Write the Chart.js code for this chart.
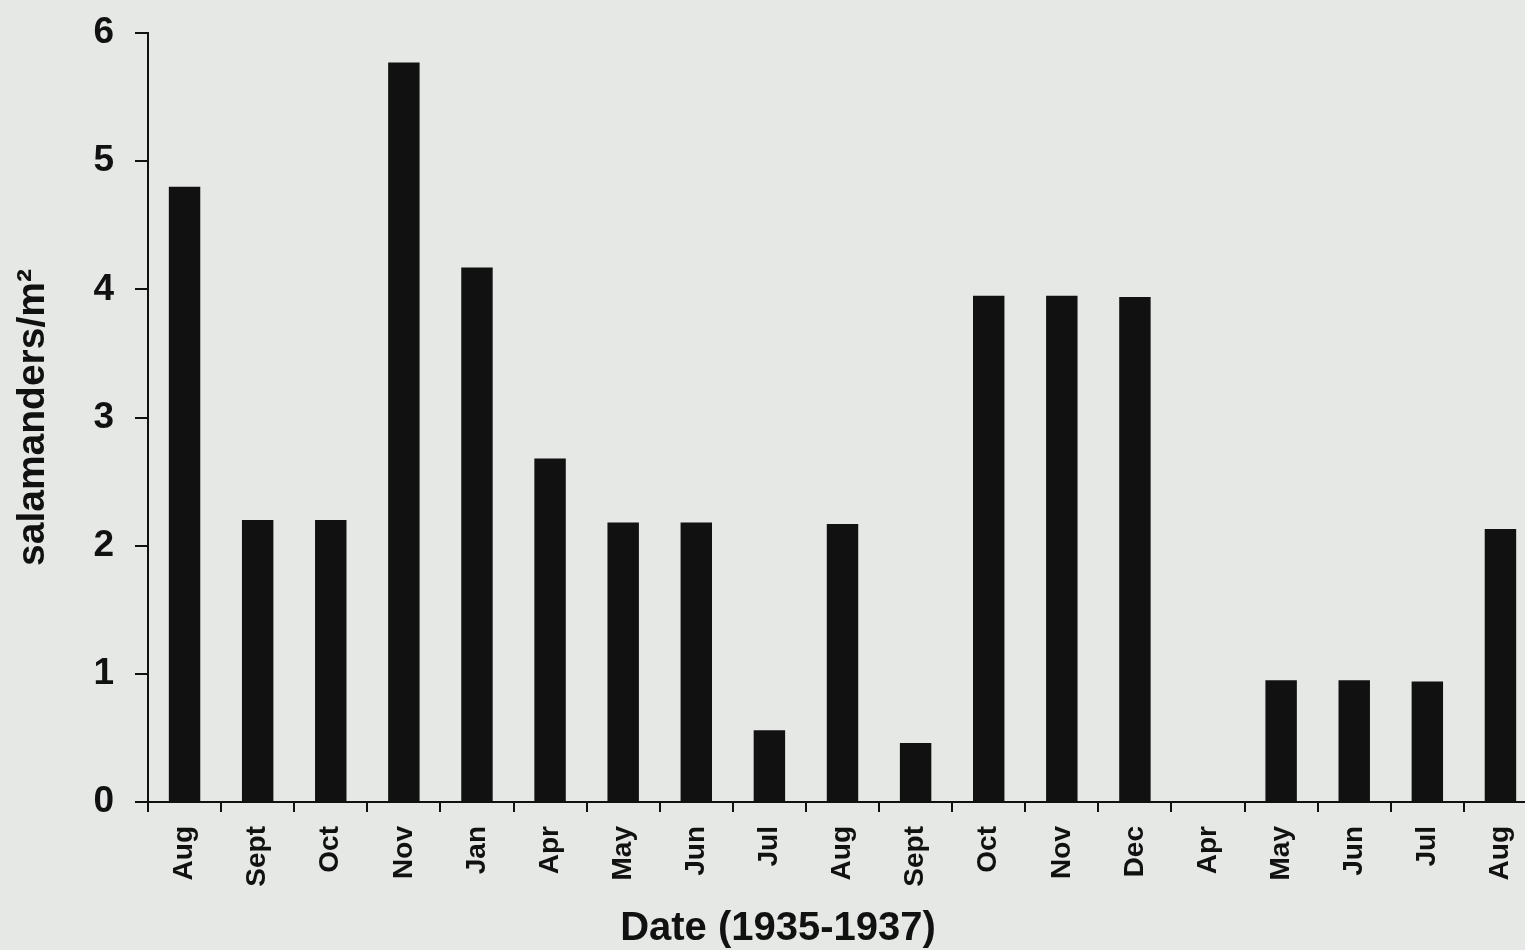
<!DOCTYPE html>
<html>
<head>
<meta charset="utf-8">
<script src="https://cdn.jsdelivr.net/npm/chart.js@4/dist/chart.umd.min.js"></script>
<style>
  html, body { margin: 0; padding: 0; background: #e5e8e5; overflow: hidden; }
  #wrap { width: 1556px; height: 950px; }
</style>
</head>
<body>
<div id="wrap"><canvas id="c" width="1556" height="950"></canvas></div>
<script>
const categories = ["Aug","Sept","Oct","Nov","Jan","Apr","May","Jun","Jul","Aug","Sept","Oct","Nov","Dec","Apr","May","Jun","Jul","Aug"];
const density = [4.80, 2.20, 2.20, 5.77, 4.17, 2.68, 2.18, 2.18, 0.56, 2.17, 0.46, 3.95, 3.95, 3.94, 0, 0.95, 0.95, 0.94, 2.13];
const yTicks = [0, 1, 2, 3, 4, 5, 6];
const xTitle = "Date (1935-1937)";
const yTitle = "salamanders/m\u00B2";

const ink = "#111111";
const fam = "'Liberation Sans', Arial, sans-serif";

new Chart(document.getElementById("c"), {
  type: "bar",
  data: {
    labels: categories,
    datasets: [{
      data: density,
      backgroundColor: ink,
      borderWidth: 0,
      barPercentage: 0.43,
      categoryPercentage: 1.0
    }]
  },
  options: {
    responsive: false,
    animation: false,
    layout: { padding: { top: 33, left: 0, right: 0, bottom: 0 } },
    plugins: {
      legend: { display: false },
      tooltip: { enabled: false },
      title: {
        display: true,
        text: xTitle,
        position: "bottom",
        color: ink,
        font: { family: fam, size: 40, weight: "bold", lineHeight: 1 },
        padding: { top: 0, bottom: 1 }
      }
    },
    scales: {
      x: {
        type: "category",
        offset: true,
        afterFit: s => { s.height = 107; s.paddingLeft = 0; s.paddingRight = 0; },
        border: { display: true, color: ink, width: 2 },
        grid: { display: true, drawOnChartArea: false, drawTicks: true, tickLength: 10, color: ink, lineWidth: 2, offset: true },
        ticks: {
          color: ink,
          font: { family: fam, size: 28, weight: "bold" },
          minRotation: 90, maxRotation: 90,
          autoSkip: false,
          padding: 14
        }
      },
      y: {
        type: "linear",
        position: "left",
        min: 0, max: 6,
        afterFit: s => { s.width = 148; s.paddingTop = 0; s.paddingBottom = 0; },
        afterBuildTicks: s => { s.ticks = yTicks.map(v => ({ value: v })); },
        border: { display: true, color: ink, width: 2 },
        grid: { display: true, drawOnChartArea: false, drawTicks: true, tickLength: 13, color: ink, lineWidth: 2 },
        ticks: {
          color: ink,
          font: { family: fam, size: 37, weight: "bold" },
          padding: 21
        },
        title: {
          display: true,
          text: yTitle,
          color: ink,
          font: { family: fam, size: 39, weight: "bold", lineHeight: 1 },
          padding: { top: 14, bottom: 0 }
        }
      },
      spacer: {
        type: "linear",
        position: "right",
        display: true,
        afterFit: s => { s.width = 19; s.paddingTop = 0; s.paddingBottom = 0; },
        border: { display: false },
        grid: { display: false, drawTicks: false },
        ticks: { display: false }
      }
    }
  }
});
</script>
</body>
</html>
